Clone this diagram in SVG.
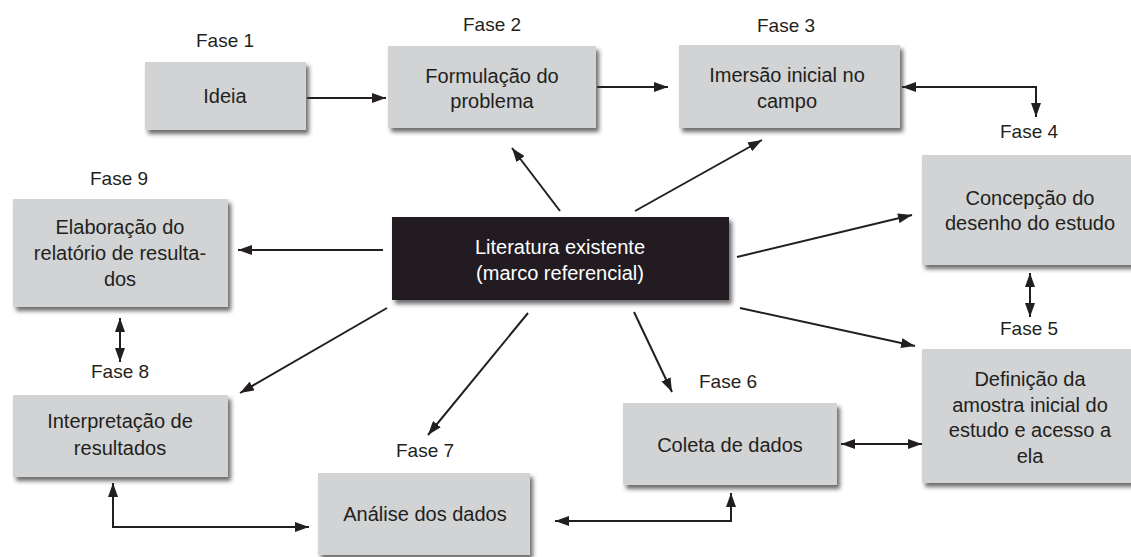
<svg xmlns="http://www.w3.org/2000/svg" width="1131" height="557" viewBox="0 0 1131 557">
  <defs>
    <filter id="shadow" x="-10%" y="-10%" width="130%" height="140%">
      <feDropShadow dx="3" dy="4" stdDeviation="2" flood-color="#3a3a3a" flood-opacity="0.75"/>
    </filter>
    <marker id="ah" viewBox="0 0 14 10" refX="14" refY="5" markerWidth="14" markerHeight="10" markerUnits="userSpaceOnUse" orient="auto-start-reverse">
      <path d="M0,0 L14,5 L0,10 z" fill="#231f20"/>
    </marker>
    <style>
      .box { fill: #d1d3d4; filter: url(#shadow); }
      .dark { fill: #231f20; filter: url(#shadow); }
      .t { font-family: "Liberation Sans", Arial, sans-serif; font-size: 20px; fill: #231f20; text-anchor: middle; }
      .tw { font-family: "Liberation Sans", Arial, sans-serif; font-size: 20px; fill: #ffffff; text-anchor: middle; }
      .lbl { font-family: "Liberation Sans", Arial, sans-serif; font-size: 19px; fill: #231f20; text-anchor: middle; }
      .c { fill: none; stroke: #231f20; stroke-width: 2; }
    </style>
  </defs>
  <rect width="1131" height="557" fill="#ffffff"/>

  <g id="connectors">
    <path class="c" d="M307,98 H386" marker-end="url(#ah)"/>
    <path class="c" d="M597,87 H668" marker-end="url(#ah)"/>
    <path class="c" d="M902,87 H1036 V117" marker-start="url(#ah)" marker-end="url(#ah)"/>
    <path class="c" d="M560,211 L512,148" marker-end="url(#ah)"/>
    <path class="c" d="M635,211 L762,140" marker-end="url(#ah)"/>
    <path class="c" d="M383,250 H238" marker-end="url(#ah)"/>
    <path class="c" d="M737,257 L912,215" marker-end="url(#ah)"/>
    <path class="c" d="M740,308 L915,346" marker-end="url(#ah)"/>
    <path class="c" d="M634,312 L672,392" marker-end="url(#ah)"/>
    <path class="c" d="M528,313 L428,435" marker-end="url(#ah)"/>
    <path class="c" d="M387,308 L240,393" marker-end="url(#ah)"/>
    <path class="c" d="M120,318 V362" marker-start="url(#ah)" marker-end="url(#ah)"/>
    <path class="c" d="M1030,273 V317" marker-start="url(#ah)" marker-end="url(#ah)"/>
    <path class="c" d="M841,444 H922" marker-start="url(#ah)" marker-end="url(#ah)"/>
    <path class="c" d="M555,521 H731 V493" marker-start="url(#ah)" marker-end="url(#ah)"/>
    <path class="c" d="M113,483 V527 H309" marker-start="url(#ah)" marker-end="url(#ah)"/>
  </g>

  <g id="fase1">
    <text class="lbl" x="225" y="47">Fase 1</text>
    <rect class="box" x="145" y="62" width="161" height="68"/>
    <text class="t" x="225" y="103">Ideia</text>
  </g>

  <g id="fase2">
    <text class="lbl" x="492" y="31">Fase 2</text>
    <rect class="box" x="388" y="46" width="208" height="82"/>
    <text class="t" x="492" y="83">Formulação do</text>
    <text class="t" x="492" y="108">problema</text>
  </g>

  <g id="fase3">
    <text class="lbl" x="786" y="32">Fase 3</text>
    <rect class="box" x="679" y="45" width="221" height="83"/>
    <text class="t" x="787" y="82">Imersão inicial no</text>
    <text class="t" x="787" y="108">campo</text>
  </g>

  <g id="fase4">
    <text class="lbl" x="1029" y="138">Fase 4</text>
    <rect class="box" x="922" y="155" width="215" height="110"/>
    <text class="t" x="1030" y="205">Concepção do</text>
    <text class="t" x="1030" y="230">desenho do estudo</text>
  </g>

  <g id="fase5">
    <text class="lbl" x="1029" y="335">Fase 5</text>
    <rect class="box" x="922" y="349" width="215" height="134"/>
    <text class="t" x="1030" y="386">Definição da</text>
    <text class="t" x="1030" y="412">amostra inicial do</text>
    <text class="t" x="1030" y="437">estudo e acesso a</text>
    <text class="t" x="1030" y="463">ela</text>
  </g>

  <g id="fase6">
    <text class="lbl" x="728" y="388">Fase 6</text>
    <rect class="box" x="623" y="403" width="214" height="82"/>
    <text class="t" x="730" y="452">Coleta de dados</text>
  </g>

  <g id="fase7">
    <text class="lbl" x="425" y="457">Fase 7</text>
    <rect class="box" x="318" y="473" width="212" height="82"/>
    <text class="t" x="425" y="521">Análise dos dados</text>
  </g>

  <g id="fase8">
    <text class="lbl" x="120" y="378">Fase 8</text>
    <rect class="box" x="13" y="395" width="215" height="82"/>
    <text class="t" x="120" y="428">Interpretação de</text>
    <text class="t" x="120" y="455">resultados</text>
  </g>

  <g id="fase9">
    <text class="lbl" x="119" y="185">Fase 9</text>
    <rect class="box" x="13" y="199" width="215" height="108"/>
    <text class="t" x="120" y="234">Elaboração do</text>
    <text class="t" x="120" y="260">relatório de resulta-</text>
    <text class="t" x="120" y="286">dos</text>
  </g>

  <g id="literatura">
    <rect class="dark" x="392" y="217" width="337" height="83"/>
    <text class="tw" x="560" y="254">Literatura existente</text>
    <text class="tw" x="560" y="280">(marco referencial)</text>
  </g>
</svg>
